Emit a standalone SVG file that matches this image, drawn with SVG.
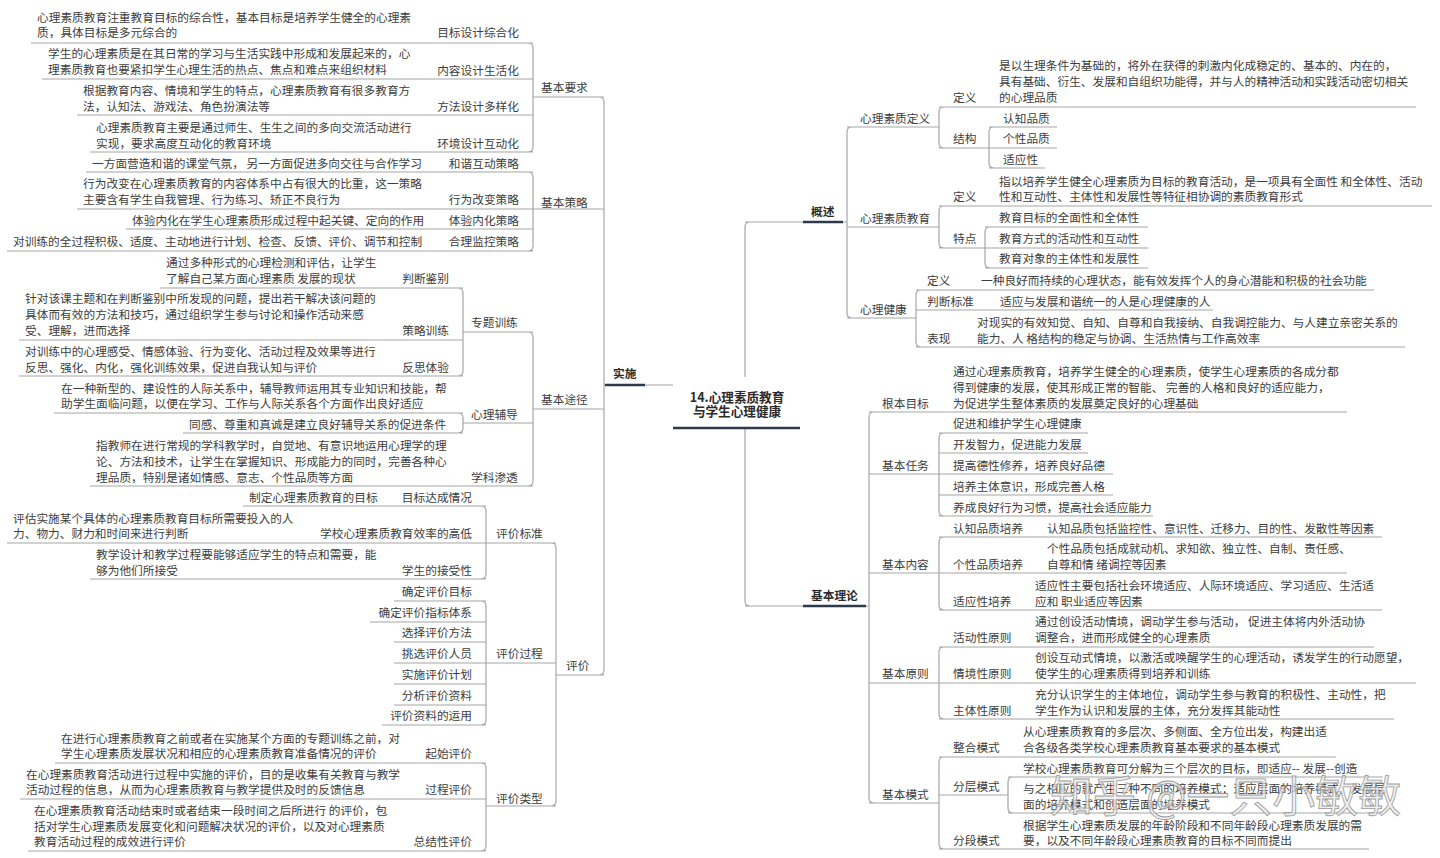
<svg xmlns="http://www.w3.org/2000/svg" width="1440" height="858" viewBox="0 0 1440 858">
<style>
text{font-family:"Noto Sans CJK SC","Noto Sans",sans-serif;font-size:11.7px;fill:#3d3d3d}
.e{text-anchor:end}
.b{font-weight:bold;fill:#2b2b2b}
.c{font-weight:bold;font-size:12.6px;fill:#2b2b2b;text-anchor:middle}
.ln{stroke:#a6a6a6;stroke-width:1.2;fill:none}
.dk{stroke:#2e3a4b;stroke-width:2.6;fill:none}
.wm{font-size:43px;fill:#e8e8e8;fill-opacity:.7;stroke:#9a9a9a;stroke-width:.8}
</style>
<rect width="1440" height="858" fill="#fff"/>
<g id="connectors">
<path class="ln" d="M31,43H533 M42,79H533 M77,115H533 M90,152H533 M528,43Q533,43 533,48V147Q533,152 528,152 M533,97H604
M86,172H533 M77,209H533 M126,229H533 M7,251H533 M528,172Q533,172 533,177V246Q533,251 528,251 M533,209H604
M160,288H463 M19,340H463 M19,376H463 M458,288Q463,288 463,293V371Q463,376 458,376 M463,332H533
M54,413H463 M183,433H463 M458,413Q463,413 463,418V428Q463,433 458,433 M463,423H533
M90,486H533 M528,332Q533,332 533,337V481Q533,486 528,486 M533,409H604
M243,506H486 M7,543H486 M90,579H486 M481,506Q486,506 486,511V574Q486,579 481,579 M486,543H556
M394,601H486 M370,622H486 M394,642H486 M394,663H486 M394,684H486 M394,705H486 M382,725H486 M481,601Q486,601 486,606V720Q486,725 481,725 M486,663H556
M55,763H486 M20,799H486 M28,851H486 M481,763Q486,763 486,768V846Q486,851 481,851 M486,806H556
M551,543Q556,543 556,548V801Q556,806 551,806 M556,675H604
M599,97Q604,97 604,102V670Q604,675 599,675 M604,385H673
M750,222Q745,222 745,227V377 M745,428V601Q745,606 750,606
M745,222H847 M745,606H869
M852,127Q847,127 847,132V313Q847,318 852,318
M847,127H939 M944,107Q939,107 939,112V143Q939,148 944,148 M939,107H1416 M939,148H989
M994,127Q989,127 989,132V163Q989,168 994,168 M989,127H1057 M989,148H1057 M989,168H1045
M847,227H939 M944,206Q939,206 939,211V243Q939,248 944,248 M939,206H1432 M939,248H985
M990,227Q985,227 985,232V263Q985,268 990,268 M985,227H1148 M985,248H1148 M985,268H1148
M847,318H916 M921,290Q916,290 916,295V342Q916,347 921,347 M916,290H1374 M916,310H1213 M916,347H1405
M874,412Q869,412 869,417V798Q869,803 874,803 M869,412H1347
M869,474H939 M944,433Q939,433 939,438V511Q939,516 944,516 M939,433H1088 M939,453H1088 M939,474H1113 M939,495H1113 M939,516H1153
M869,573H939 M944,537Q939,537 939,542V605Q939,610 944,610 M939,537H1382 M939,573H1347 M939,610H1382
M869,683H939 M944,647Q939,647 939,652V714Q939,719 944,719 M939,647H1374 M939,683H1416 M939,719H1394
M869,803H939 M944,757Q939,757 939,762V844Q939,849 944,849 M939,757H1336 M939,795H1008 M939,849H1369
M1013,777Q1008,777 1008,782V808Q1008,813 1013,813 M1008,777H1383 M1008,813H1383"/>
<path class="dk" d="M605,385H645 M803,222H843 M803,606H866"/>
<path class="dk" stroke-width="3" d="M673,428H800"/>
</g>
<g id="n-root"><text class="c" x="737" y="401.5">14.心理素质教育<tspan x="737" dy="14.5">与学生心理健康</tspan></text></g>
<g id="n-shishi"><text class="b" x="613" y="378">实施</text></g>
<g id="n-gaishu"><text class="b" x="811" y="215.5">概述</text></g>
<g id="n-jibenlilun"><text class="b" x="811" y="599.5">基本理论</text></g>

<g id="n-jbyq"><text x="541" y="92">基本要求</text></g>
<g id="n-mbsj"><text class="e" x="519" y="37">目标设计综合化</text></g>
<g id="n-mbsj-d"><text x="37" y="21.5">心理素质教育注重教育目标的综合性，基本目标是培养学生健全的心理素<tspan x="37" dy="15.5">质，具体目标是多元综合的</tspan></text></g>
<g id="n-nrsj"><text class="e" x="519" y="74.5">内容设计生活化</text></g>
<g id="n-nrsj-d"><text x="48" y="58">学生的心理素质是在其日常的学习与生活实践中形成和发展起来的，心<tspan x="48" dy="16">理素质教育也要紧扣学生心理生活的热点、焦点和难点来组织材料</tspan></text></g>
<g id="n-ffsj"><text class="e" x="519" y="111">方法设计多样化</text></g>
<g id="n-ffsj-d"><text x="83" y="94.5">根据教育内容、情境和学生的特点，心理素质教育有很多教育方<tspan x="83" dy="16">法，认知法、游戏法、角色扮演法等</tspan></text></g>
<g id="n-hjsj"><text class="e" x="519" y="147.5">环境设计互动化</text></g>
<g id="n-hjsj-d"><text x="96" y="131.5">心理素质教育主要是通过师生、生生之间的多向交流活动进行<tspan x="96" dy="16">实现，要求高度互动化的教育环境</tspan></text></g>

<g id="n-jbcl"><text x="541" y="206.5">基本策略</text></g>
<g id="n-hxhd"><text class="e" x="519" y="167.5">和谐互动策略</text></g>
<g id="n-hxhd-d"><text x="92" y="167.5">一方面营造和谐的课堂气氛， 另一方面促进多向交往与合作学习</text></g>
<g id="n-xwgb"><text class="e" x="519" y="203.5">行为改变策略</text></g>
<g id="n-xwgb-d"><text x="83" y="187.5">行为改变在心理素质教育的内容体系中占有很大的比重，这一策略<tspan x="83" dy="16">主要含有学生自我管理、行为练习、矫正不良行为</tspan></text></g>
<g id="n-tynh"><text class="e" x="519" y="224.5">体验内化策略</text></g>
<g id="n-tynh-d"><text x="132" y="224.5">体验内化在学生心理素质形成过程中起关键、定向的作用</text></g>
<g id="n-hljk"><text class="e" x="519" y="246">合理监控策略</text></g>
<g id="n-hljk-d"><text x="13" y="246">对训练的全过程积极、适度、主动地进行计划、检查、反馈、评价、调节和控制</text></g>

<g id="n-jbtj"><text x="541" y="403.5">基本途径</text></g>
<g id="n-ztxl"><text x="471" y="326.5">专题训练</text></g>
<g id="n-pdjb"><text class="e" x="449" y="282.5">判断鉴别</text></g>
<g id="n-pdjb-d"><text x="166" y="266.5">通过多种形式的心理检测和评估，让学生<tspan x="166" dy="16">了解自己某方面心理素质 发展的现状</tspan></text></g>
<g id="n-clxl"><text class="e" x="449" y="334.5">策略训练</text></g>
<g id="n-clxl-d"><text x="25" y="302.5">针对该课主题和在判断鉴别中所发现的问题，提出若干解决该问题的<tspan x="25" dy="16">具体而有效的方法和技巧，通过组织学生参与讨论和操作活动来感</tspan><tspan x="25" dy="16">受、理解，进而选择</tspan></text></g>
<g id="n-fsty"><text class="e" x="449" y="371.5">反思体验</text></g>
<g id="n-fsty-d"><text x="25" y="355.5">对训练中的心理感受、情感体验、行为变化、活动过程及效果等进行<tspan x="25" dy="16">反思、强化、内化，强化训练效果，促进自我认知与评价</tspan></text></g>
<g id="n-xlfd"><text x="471" y="418.5">心理辅导</text></g>
<g id="n-xlfd-a"><text x="61" y="392.5">在一种新型的、建设性的人际关系中，辅导教师运用其专业知识和技能，帮<tspan x="61" dy="15.5">助学生面临问题，以便在学习、工作与人际关系各个方面作出良好适应</tspan></text></g>
<g id="n-xlfd-b"><text x="189" y="428.5">同感、尊重和真诚是建立良好辅导关系的促进条件</text></g>
<g id="n-xkst"><text x="471" y="481.5">学科渗透</text></g>
<g id="n-xkst-d"><text x="96" y="449.5">指教师在进行常规的学科教学时，自觉地、有意识地运用心理学的理<tspan x="96" dy="16">论、方法和技术，让学生在掌握知识、形成能力的同时，完善各种心</tspan><tspan x="96" dy="16">理品质，特别是诸如情感、意志、个性品质等方面</tspan></text></g>

<g id="n-pj"><text x="566" y="669.5">评价</text></g>
<g id="n-pjbz"><text x="496" y="538">评价标准</text></g>
<g id="n-mbdc"><text class="e" x="472" y="501.5">目标达成情况</text></g>
<g id="n-mbdc-d"><text x="249" y="501.5">制定心理素质教育的目标</text></g>
<g id="n-xxxl"><text class="e" x="472" y="538">学校心理素质教育效率的高低</text></g>
<g id="n-xxxl-d"><text x="13" y="522.5">评估实施某个具体的心理素质教育目标所需要投入的人<tspan x="13" dy="15.5">力、物力、财力和时间来进行判断</tspan></text></g>
<g id="n-jsx"><text class="e" x="472" y="574.5">学生的接受性</text></g>
<g id="n-jsx-d"><text x="96" y="558.5">教学设计和教学过程要能够适应学生的特点和需要，能<tspan x="96" dy="16">够为他们所接受</tspan></text></g>
<g id="n-pjgc"><text x="496" y="657.5">评价过程</text></g>
<g id="n-pg1"><text class="e" x="472" y="595.5">确定评价目标</text></g>
<g id="n-pg2"><text class="e" x="472" y="616.5">确定评价指标体系</text></g>
<g id="n-pg3"><text class="e" x="472" y="637">选择评价方法</text></g>
<g id="n-pg4"><text class="e" x="472" y="657.5">挑选评价人员</text></g>
<g id="n-pg5"><text class="e" x="472" y="678.5">实施评价计划</text></g>
<g id="n-pg6"><text class="e" x="472" y="699.5">分析评价资料</text></g>
<g id="n-pg7"><text class="e" x="472" y="720">评价资料的运用</text></g>
<g id="n-pjlx"><text x="496" y="802.5">评价类型</text></g>
<g id="n-qspj"><text class="e" x="472" y="758">起始评价</text></g>
<g id="n-qspj-d"><text x="61" y="742.5">在进行心理素质教育之前或者在实施某个方面的专题训练之前，对<tspan x="61" dy="15.5">学生心理素质发展状况和相应的心理素质教育准备情况的评价</tspan></text></g>
<g id="n-gcpj"><text class="e" x="472" y="794">过程评价</text></g>
<g id="n-gcpj-d"><text x="26" y="778.5">在心理素质教育活动进行过程中实施的评价，目的是收集有关教育与教学<tspan x="26" dy="15.5">活动过程的信息，从而为心理素质教育与教学提供及时的反馈信息</tspan></text></g>
<g id="n-zjpj"><text class="e" x="472" y="846">总结性评价</text></g>
<g id="n-zjpj-d"><text x="34" y="815">在心理素质教育活动结束时或者结束一段时间之后所进行 的评价，包<tspan x="34" dy="15.5">括对学生心理素质发展变化和问题解决状况的评价，以及对心理素质</tspan><tspan x="34" dy="15.5">教育活动过程的成效进行评价</tspan></text></g>

<g id="n-xlszdy"><text x="860" y="122.5">心理素质定义</text></g>
<g id="n-dy1"><text x="953" y="101.5">定义</text></g>
<g id="n-dy1-d"><text x="999" y="69.5">是以生理条件为基础的，将外在获得的刺激内化成稳定的、基本的、内在的，<tspan x="999" dy="16">具有基础、衍生、发展和自组织功能得，并与人的精神活动和实践活动密切相关</tspan><tspan x="999" dy="16">的心理品质</tspan></text></g>
<g id="n-jg"><text x="953" y="142.5">结构</text></g>
<g id="n-rzpz"><text x="1003" y="122.5">认知品质</text></g>
<g id="n-gxpz"><text x="1003" y="142.5">个性品质</text></g>
<g id="n-syx"><text x="1003" y="163.5">适应性</text></g>
<g id="n-xlszjy"><text x="860" y="222.5">心理素质教育</text></g>
<g id="n-dy2"><text x="953" y="200.5">定义</text></g>
<g id="n-dy2-d"><text x="999" y="185.5">指以培养学生健全心理素质为目标的教育活动，是一项具有全面性 和全体性、活动<tspan x="999" dy="15.5">性和互动性、主体性和发展性等特征相协调的素质教育形式</tspan></text></g>
<g id="n-td"><text x="953" y="242.5">特点</text></g>
<g id="n-td1"><text x="999" y="221.5">教育目标的全面性和全体性</text></g>
<g id="n-td2"><text x="999" y="242.5">教育方式的活动性和互动性</text></g>
<g id="n-td3"><text x="999" y="263">教育对象的主体性和发展性</text></g>
<g id="n-xljk"><text x="860" y="313.5">心理健康</text></g>
<g id="n-dy3"><text x="927" y="284.5">定义</text></g>
<g id="n-dy3-d"><text x="981" y="284.5">一种良好而持续的心理状态，能有效发挥个人的身心潜能和积极的社会功能</text></g>
<g id="n-pdbz"><text x="927" y="305.5">判断标准</text></g>
<g id="n-pdbz-d"><text x="1000" y="305.5">适应与发展和谐统一的人是心理健康的人</text></g>
<g id="n-bx"><text x="927" y="342.5">表现</text></g>
<g id="n-bx-d"><text x="977" y="326.5">对现实的有效知觉、自知、自尊和自我接纳、自我调控能力、与人建立亲密关系的<tspan x="977" dy="16">能力、人 格结构的稳定与协调、生活热情与工作高效率</tspan></text></g>

<g id="n-gbmb"><text x="882" y="407.5">根本目标</text></g>
<g id="n-gbmb-d"><text x="953" y="375.5">通过心理素质教育，培养学生健全的心理素质，使学生心理素质的各成分都<tspan x="953" dy="16">得到健康的发展，使其形成正常的智能、 完善的人格和良好的适应能力，</tspan><tspan x="953" dy="16">为促进学生整体素质的发展奠定良好的心理基础</tspan></text></g>
<g id="n-jbrw"><text x="882" y="469.5">基本任务</text></g>
<g id="n-rw1"><text x="953" y="427.5">促进和维护学生心理健康</text></g>
<g id="n-rw2"><text x="953" y="448.5">开发智力，促进能力发展</text></g>
<g id="n-rw3"><text x="953" y="469.5">提高德性修养，培养良好品德</text></g>
<g id="n-rw4"><text x="953" y="490.5">培养主体意识，形成完善人格</text></g>
<g id="n-rw5"><text x="953" y="511.5">养成良好行为习惯，提高社会适应能力</text></g>
<g id="n-jbnr"><text x="882" y="568.5">基本内容</text></g>
<g id="n-rzpy"><text x="953" y="532.5">认知品质培养</text></g>
<g id="n-rzpy-d"><text x="1047" y="532.5">认知品质包括监控性、意识性、迁移力、目的性、发散性等因素</text></g>
<g id="n-gxpy"><text x="953" y="568.5">个性品质培养</text></g>
<g id="n-gxpy-d"><text x="1047" y="552.5">个性品质包括成就动机、求知欲、独立性、自制、责任感、<tspan x="1047" dy="16">自尊和情 绪调控等因素</tspan></text></g>
<g id="n-syxpy"><text x="953" y="605.5">适应性培养</text></g>
<g id="n-syxpy-d"><text x="1035" y="589.5">适应性主要包括社会环境适应、人际环境适应、学习适应、生活适<tspan x="1035" dy="16">应和 职业适应等因素</tspan></text></g>
<g id="n-jbyz"><text x="882" y="677.5">基本原则</text></g>
<g id="n-hdx"><text x="953" y="641.5">活动性原则</text></g>
<g id="n-hdx-d"><text x="1035" y="626">通过创设活动情境，调动学生参与活动， 促进主体将内外活动协<tspan x="1035" dy="15.5">调整合，进而形成健全的心理素质</tspan></text></g>
<g id="n-qjx"><text x="953" y="677.5">情境性原则</text></g>
<g id="n-qjx-d"><text x="1035" y="662">创设互动式情境，以激活或唤醒学生的心理活动，诱发学生的行动愿望，<tspan x="1035" dy="15.5">使学生的心理素质得到培养和训练</tspan></text></g>
<g id="n-ztx"><text x="953" y="714.5">主体性原则</text></g>
<g id="n-ztx-d"><text x="1035" y="699">充分认识学生的主体地位，调动学生参与教育的积极性、主动性，把<tspan x="1035" dy="15.5">学生作为认识和发展的主体，充分发挥其能动性</tspan></text></g>
<g id="n-jbms"><text x="882" y="798.5">基本模式</text></g>
<g id="n-zhms"><text x="953" y="751.5">整合模式</text></g>
<g id="n-zhms-d"><text x="1023" y="735.5">从心理素质教育的多层次、多侧面、全方位出发，构建出适<tspan x="1023" dy="16">合各级各类学校心理素质教育基本要求的基本模式</tspan></text></g>
<g id="n-fcms"><text x="953" y="790.5">分层模式</text></g>
<g id="n-fcms-a"><text x="1023" y="772.5">学校心理素质教育可分解为三个层次的目标，即适应-- 发展--创造</text></g>
<g id="n-fcms-b"><text x="1023" y="792.5">与之相应的就产生三种不同的培养模式：适应层面的培养模式、发展层<tspan x="1023" dy="16">面的培养模式和创造层面的培养模式</tspan></text></g>
<g id="n-fdms"><text x="953" y="844.5">分段模式</text></g>
<g id="n-fdms-d"><text x="1023" y="829.5">根据学生心理素质发展的年龄阶段和不同年龄段心理素质发展的需<tspan x="1023" dy="15.5">要，以及不同年龄段心理素质教育的目标不同而提出</tspan></text></g>
<text class="wm" x="1050" y="812">知乎 @一只小敏敏</text>
</svg>
